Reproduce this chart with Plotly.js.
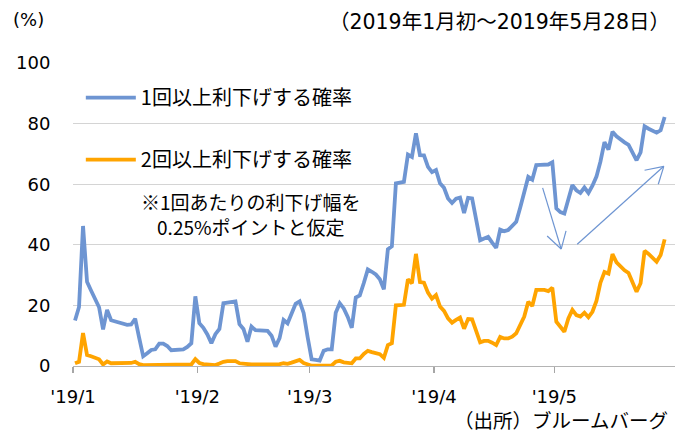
<!DOCTYPE html>
<html>
<head>
<meta charset="utf-8">
<script src="https://cdn.plot.ly/plotly-3.0.1.min.js"></script>
<style>html,body{margin:0;padding:0;background:#fff;}#chart{width:675px;height:435px;}</style>
</head>
<body>
<div id="chart"></div>
<script>
// Daily observations from 2019-01-01 to 2019-05-28 (one value per calendar day)
const startDate = '2019-01-01';
const seriesNames = ['1回以上利下げする確率', '2回以上利下げする確率'];
const oneCutProb = [
  15, 19.5, 46.2, 27.8, 24.9, 22.2, 19.4, 12.1, 18.5, 15.1,
  14.8, 14.4, 14.0, 13.6, 13.7, 15.6, 9.3, 3.2, 4.2, 5.3,
  5.5, 7.4, 7.4, 6.6, 5.2, 5.3, 5.4, 5.5, 6.3, 7.5,
  23.0, 14.1, 12.6, 10.4, 7.5, 10.5, 12.2, 20.7, 20.9, 21.1,
  21.3, 13.8, 12.2, 8.0, 13.0, 11.8, 11.7, 11.6, 11.6, 10.0,
  6.4, 9.2, 15.2, 14.1, 17.1, 20.5, 21.3, 17.5, 9.5, 2.2,
  2.0, 1.8, 5.0, 5.5, 5.5, 17.6, 20.7, 19.0, 16.2, 12.6,
  22.6, 23.3, 27.4, 31.9, 31.1, 30.2, 28.6, 25.3, 38.5, 39.5,
  60.3, 60.6, 60.8, 69.8, 69.0, 76.8, 69.6, 69.5, 65.7, 64.0,
  64.7, 60.3, 58.8, 55.3, 53.8, 55.2, 55.6, 50.5, 55.5, 55.3,
  48.8, 41.5, 42.1, 42.6, 40.7, 39.0, 45.0, 44.5, 44.9, 46.2,
  47.6, 52.3, 57.0, 62.4, 61.5, 66.3, 66.4, 66.5, 66.5, 67.2,
  52.0, 50.8, 50.3, 55.0, 59.7, 58.0, 57.1, 58.9, 57.1, 59.5,
  62.5, 67.5, 73.9, 71.4, 77.3, 75.8, 74.7, 73.8, 73.0, 70.5,
  67.9, 70.5, 79.1, 78.3, 77.6, 77.0, 77.8, 82.2
];
const twoCutProb = [
  0.9, 1.4, 10.9, 3.6, 3.2, 2.6, 2.2, 0.5, 1.5, 0.9,
  0.9, 0.9, 0.9, 0.9, 1.0, 1.4, 0.6, 0.3, 0.3, 0.3,
  0.3, 0.3, 0.3, 0.3, 0.3, 0.3, 0.3, 0.3, 0.3, 0.5,
  2.3, 1.0, 0.6, 0.4, 0.3, 0.3, 0.8, 1.4, 1.6, 1.6,
  1.6, 0.9, 0.7, 0.5, 0.5, 0.5, 0.5, 0.5, 0.5, 0.5,
  0.3, 0.6, 0.9, 0.7, 1.1, 1.6, 2.0, 1.0, 0.4, 0.1,
  0.1, 0.1, 0.1, 0.1, 0.2, 1.4, 1.7, 1.2, 0.9, 0.9,
  2.5, 2.5, 4.0, 5.0, 4.6, 4.3, 3.9, 2.7, 6.9, 7.5,
  20.0, 20.1, 20.2, 28.6, 27.3, 37.0, 27.7, 27.5, 24.2, 22.2,
  23.4, 19.6, 18.2, 15.7, 14.3, 15.2, 16.0, 12.3, 15.5, 15.4,
  11.3, 7.8, 8.3, 8.3, 7.7, 6.9, 9.6, 9.1, 9.1, 9.7,
  10.8, 13.8, 16.3, 21.2, 19.8, 25.1, 25.1, 25.1, 24.7, 25.8,
  14.6, 13.0, 11.3, 15.7, 18.5, 16.8, 16.3, 17.6, 16.1, 17.9,
  21.5, 27.5, 31.0, 30.5, 36.9, 34.2, 32.8, 31.6, 30.7, 27.5,
  24.5, 27.3, 38.0, 37.0, 35.8, 34.4, 36.6, 41.8
];
const tickDates = ['2019-01-01', '2019-02-01', '2019-03-01', '2019-04-01', '2019-05-01'];
const tickLabels = ["'19/1", "'19/2", "'19/3", "'19/4", "'19/5"];
const yTicks = [0, 20, 40, 60, 80, 100];

// build the calendar-day category list
const dates = [];
const d0 = new Date(startDate + 'T00:00:00Z');
for (let i = 0; i < oneCutProb.length; i++) {
  const d = new Date(d0.getTime() + i * 86400000);
  dates.push(d.toISOString().slice(0, 10));
}

const blue = '#6e95d2';
const orange = '#ffa400';
const jp = '"Noto Sans CJK JP", "DejaVu Sans", sans-serif';
const num = '"DejaVu Sans", "Noto Sans CJK JP", sans-serif';

const traces = [
  {x: dates, y: oneCutProb, name: seriesNames[0], type: 'scatter', mode: 'lines',
   xperiod: 86400000, xperiodalignment: 'middle', legendgroup: 'a',
   line: {color: blue, width: 3.8}},
  {x: dates, y: twoCutProb, name: seriesNames[1], type: 'scatter', mode: 'lines',
   xperiod: 86400000, xperiodalignment: 'middle', legendgroup: 'b',
   line: {color: orange, width: 3.8}}
];

const arrowLine = {color: blue, width: 1.2};
const shapes = [
  // arrow 1 (down to the May FOMC dip)
  {type: 'line', xref: 'x', yref: 'y', x0: '2019-04-28 02:00', y0: 58.8, x1: '2019-05-02 17:00', y1: 38.6, line: arrowLine},
  {type: 'line', xref: 'x', yref: 'y', x0: '2019-04-29 05:00', y0: 42.9, x1: '2019-05-02 17:00', y1: 38.6, line: arrowLine},
  {type: 'line', xref: 'x', yref: 'y', x0: '2019-05-03 22:00', y0: 44.6, x1: '2019-05-02 17:00', y1: 38.6, line: arrowLine},
  // arrow 2 (rising afterwards)
  {type: 'line', xref: 'x', yref: 'y', x0: '2019-05-06 17:00', y0: 40.2, x1: '2019-05-28 07:00', y1: 65.9, line: arrowLine},
  {type: 'line', xref: 'x', yref: 'y', x0: '2019-05-23 12:00', y0: 64.6, x1: '2019-05-28 07:00', y1: 65.9, line: arrowLine},
  {type: 'line', xref: 'x', yref: 'y', x0: '2019-05-26 22:00', y0: 60.0, x1: '2019-05-28 07:00', y1: 65.9, line: arrowLine}
];

const layout = {
  width: 675, height: 435,
  margin: {l: 73, r: 0, t: 63, b: 69},
  paper_bgcolor: '#ffffff', plot_bgcolor: '#ffffff',
  showlegend: true,
  title: {text: '（2019年1月初～2019年5月28日）', font: {family: num, size: 20.5, color: '#000'},
          x: 670 / 675, xanchor: 'right', xref: 'container', y: 1 - 22 / 435, yanchor: 'middle',
          yref: 'container', pad: {t: 0, b: 0, l: 0, r: 0}},
  xaxis: {
    type: 'date', range: ['2019-01-01', '2019-05-31 02:00'],
    tickmode: 'array', tickvals: tickDates, ticktext: tickLabels,
    ticks: 'outside', ticklen: 6, tickwidth: 1.3, tickcolor: '#a6a6a6',
    showline: true, linecolor: '#b4b4b4', linewidth: 1.3,
    showgrid: false, zeroline: false,
    tickfont: {family: num, size: 18, color: '#000'},
    ticklabelstandoff: 8
  },
  yaxis: {
    range: [0, 100], tickmode: 'array', tickvals: yTicks,
    showgrid: true, gridcolor: '#d4d4d4', gridwidth: 1.3,
    zeroline: false, showline: false,
    ticks: 'outside', ticklen: 18, tickcolor: 'rgba(0,0,0,0)',
    tickfont: {family: num, size: 18, color: '#000'}
  },
  legend: {
    x: 0.013, y: 0.95, xanchor: 'left', yanchor: 'top',
    bgcolor: 'rgba(0,0,0,0)', font: {family: jp, size: 20, color: '#000'},
    traceorder: 'grouped', tracegroupgap: 33, itemwidth: 50
  },
  shapes: shapes,
  annotations: [
    {text: '(%)', xref: 'paper', yref: 'paper', x: (29 - 73) / 602, xanchor: 'center', y: (366 - 20) / 303, yanchor: 'middle',
     showarrow: false, font: {family: num, size: 18, color: '#000'}},
    {text: '※1回あたりの利下げ幅を<br>0.25%ポイントと仮定', xref: 'paper', yref: 'paper',
     x: (251 - 73) / 602, xanchor: 'center', y: (366 - 214) / 303, yanchor: 'middle', align: 'center',
     showarrow: false, font: {family: jp, size: 19, color: '#000'}},
    {text: '（出所）ブルームバーグ', xref: 'paper', yref: 'paper', x: (670 - 73) / 602, xanchor: 'right',
     y: (366 - 419) / 303, yanchor: 'middle', showarrow: false, font: {family: jp, size: 19.5, color: '#000'}}
  ]
};

Plotly.newPlot('chart', traces, layout, {staticPlot: true, displayModeBar: false});
</script>
</body>
</html>
